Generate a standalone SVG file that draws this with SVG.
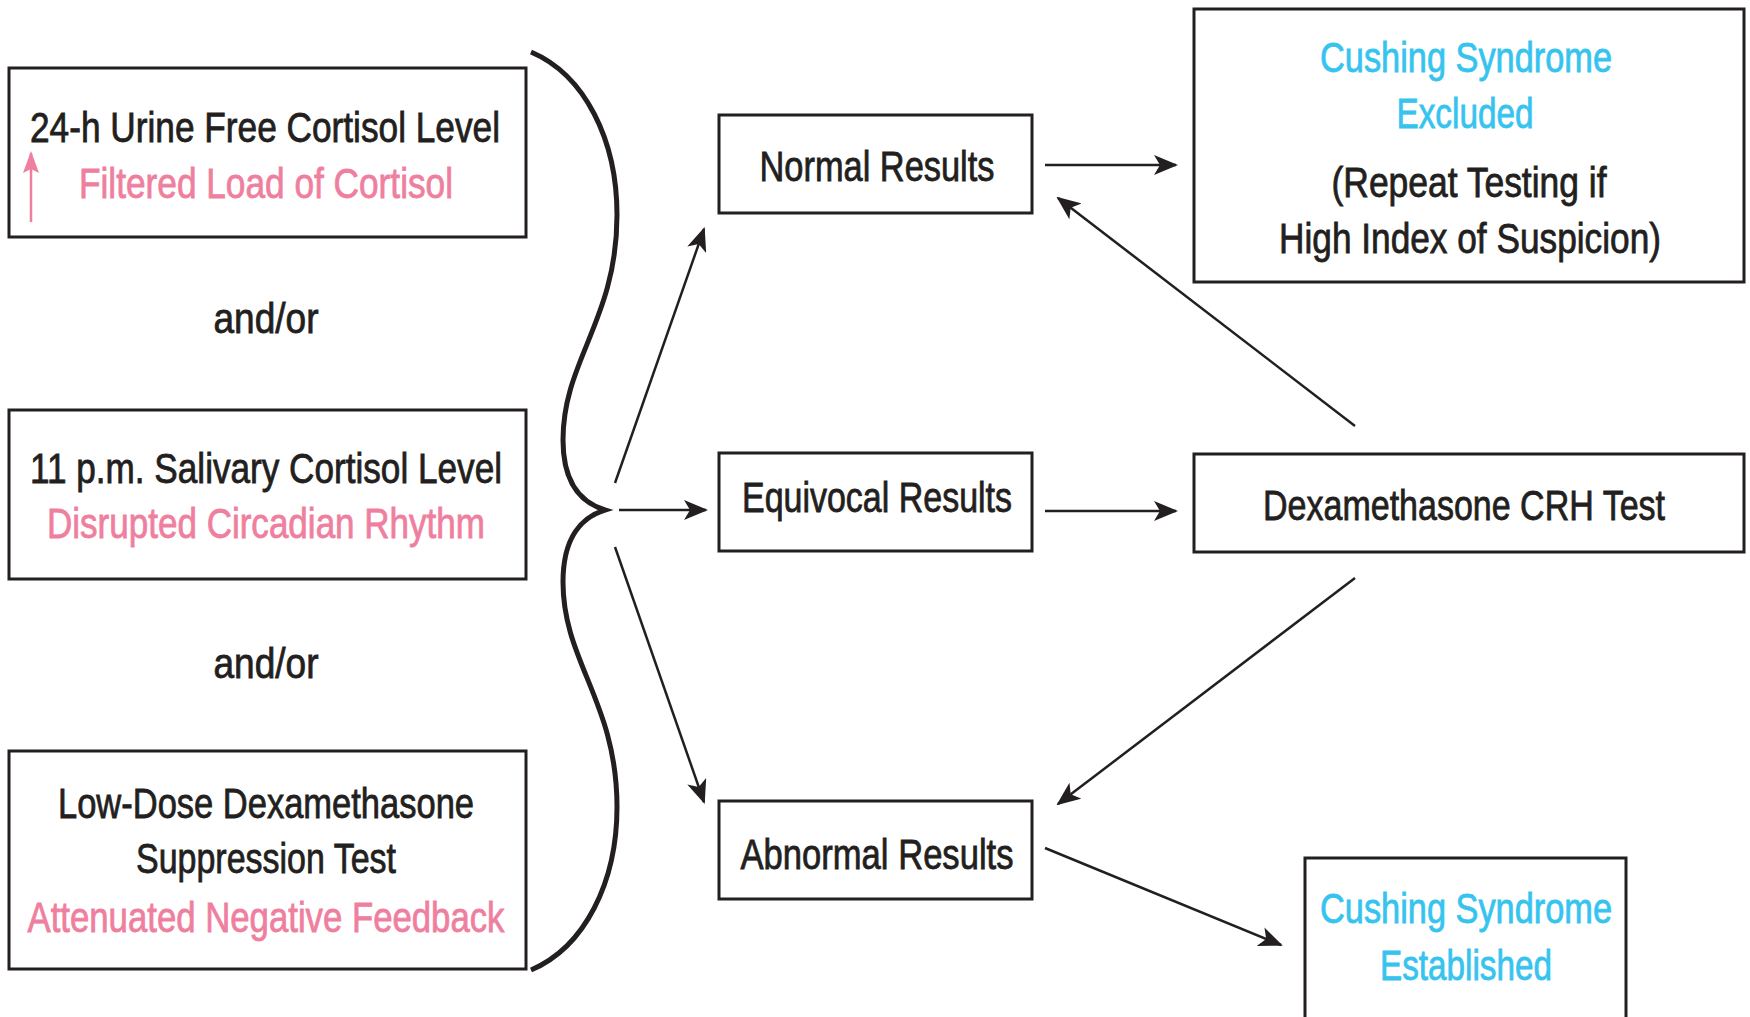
<svg xmlns="http://www.w3.org/2000/svg" width="1750" height="1017" viewBox="0 0 1750 1017">
<style>
.box{fill:#fff;stroke:#231f20;stroke-width:3}
.t{font-family:"Liberation Sans",Arial,sans-serif;font-size:42px;fill:#231f20;stroke:#231f20;stroke-width:0.8;text-anchor:middle}
.p{fill:#ef7f9f;stroke:#ef7f9f}
.c{fill:#36c4ef;stroke:#36c4ef}
.con{fill:none;stroke:#231f20;stroke-width:2.5}
</style>
<defs>
<marker id="ah" markerUnits="userSpaceOnUse" markerWidth="24" markerHeight="20" viewBox="0 0 24 20" refX="22" refY="10" orient="auto">
<path d="M0,0 L24,10 L0,20 L6,10 z" fill="#231f20"/>
</marker>
<marker id="ahp" markerUnits="userSpaceOnUse" markerWidth="22" markerHeight="16" viewBox="0 0 22 16" refX="20" refY="8" orient="auto">
<path d="M0,0 L22,8 L0,16 L4,8 z" fill="#ef7f9f"/>
</marker>
</defs>
<rect width="1750" height="1017" fill="#fff"/>

<g id="urine">
<rect class="box" x="9" y="68" width="517" height="169"/>
<text class="t" x="265" y="142" textLength="470" lengthAdjust="spacingAndGlyphs">24-h Urine Free Cortisol Level</text>
<text class="t p" x="266" y="198" textLength="374" lengthAdjust="spacingAndGlyphs">Filtered Load of Cortisol</text>
<line x1="31" y1="222" x2="31" y2="153" stroke="#ef7f9f" stroke-width="2.5" marker-end="url(#ahp)"/>
</g>

<g id="andor1"><text class="t" x="266" y="333" textLength="105" lengthAdjust="spacingAndGlyphs">and/or</text></g>

<g id="salivary">
<rect class="box" x="9" y="410" width="517" height="169"/>
<text class="t" x="266" y="483" textLength="472" lengthAdjust="spacingAndGlyphs">11 p.m. Salivary Cortisol Level</text>
<text class="t p" x="266" y="538" textLength="438" lengthAdjust="spacingAndGlyphs">Disrupted Circadian Rhythm</text>
</g>

<g id="andor2"><text class="t" x="266" y="678" textLength="105" lengthAdjust="spacingAndGlyphs">and/or</text></g>

<g id="lowdose">
<rect class="box" x="9" y="751" width="517" height="218"/>
<text class="t" x="266" y="818" textLength="416" lengthAdjust="spacingAndGlyphs">Low-Dose Dexamethasone</text>
<text class="t" x="266" y="873" textLength="260" lengthAdjust="spacingAndGlyphs">Suppression Test</text>
<text class="t p" x="266" y="932" textLength="477" lengthAdjust="spacingAndGlyphs">Attenuated Negative Feedback</text>
</g>

<g id="brace">
<path d="M531,52 C585,75 617,140 617,215 C617,320 563,360 563,440 C563,485 582,503 605,510 C582,517 563,537 563,582 C563,662 617,702 617,807 C617,882 585,947 531,970" fill="none" stroke="#231f20" stroke-width="5"/>
</g>

<g id="normal">
<rect class="box" x="719" y="115" width="313" height="98"/>
<text class="t" x="877" y="181" textLength="235" lengthAdjust="spacingAndGlyphs">Normal Results</text>
</g>

<g id="equivocal">
<rect class="box" x="719" y="453" width="313" height="98"/>
<text class="t" x="877" y="512" textLength="270" lengthAdjust="spacingAndGlyphs">Equivocal Results</text>
</g>

<g id="abnormal">
<rect class="box" x="719" y="801" width="313" height="98"/>
<text class="t" x="877" y="869" textLength="273" lengthAdjust="spacingAndGlyphs">Abnormal Results</text>
</g>

<g id="excluded">
<rect class="box" x="1194" y="9" width="550" height="273"/>
<text class="t c" x="1466" y="72" textLength="292" lengthAdjust="spacingAndGlyphs">Cushing Syndrome</text>
<text class="t c" x="1465" y="128" textLength="137" lengthAdjust="spacingAndGlyphs">Excluded</text>
<text class="t" x="1469" y="197" textLength="275" lengthAdjust="spacingAndGlyphs">(Repeat Testing if</text>
<text class="t" x="1470" y="253" textLength="382" lengthAdjust="spacingAndGlyphs">High Index of Suspicion)</text>
</g>

<g id="dexcrh">
<rect class="box" x="1194" y="454" width="550" height="98"/>
<text class="t" x="1464" y="520" textLength="402" lengthAdjust="spacingAndGlyphs">Dexamethasone CRH Test</text>
</g>

<g id="established">
<rect class="box" x="1305" y="858" width="321" height="180"/>
<text class="t c" x="1466" y="923" textLength="292" lengthAdjust="spacingAndGlyphs">Cushing Syndrome</text>
<text class="t c" x="1466" y="980" textLength="172" lengthAdjust="spacingAndGlyphs">Established</text>
</g>

<g id="connectors">
<line class="con" x1="615" y1="483" x2="704" y2="229" marker-end="url(#ah)"/>
<line class="con" x1="619" y1="510" x2="706" y2="510" marker-end="url(#ah)"/>
<line class="con" x1="615" y1="547" x2="704" y2="802" marker-end="url(#ah)"/>
<line class="con" x1="1045" y1="165" x2="1176" y2="165" marker-end="url(#ah)"/>
<line class="con" x1="1045" y1="511" x2="1176" y2="511" marker-end="url(#ah)"/>
<line class="con" x1="1355" y1="426" x2="1058" y2="198" marker-end="url(#ah)"/>
<line class="con" x1="1355" y1="578" x2="1058" y2="804" marker-end="url(#ah)"/>
<line class="con" x1="1045" y1="848" x2="1281" y2="945" marker-end="url(#ah)"/>
</g>
</svg>
